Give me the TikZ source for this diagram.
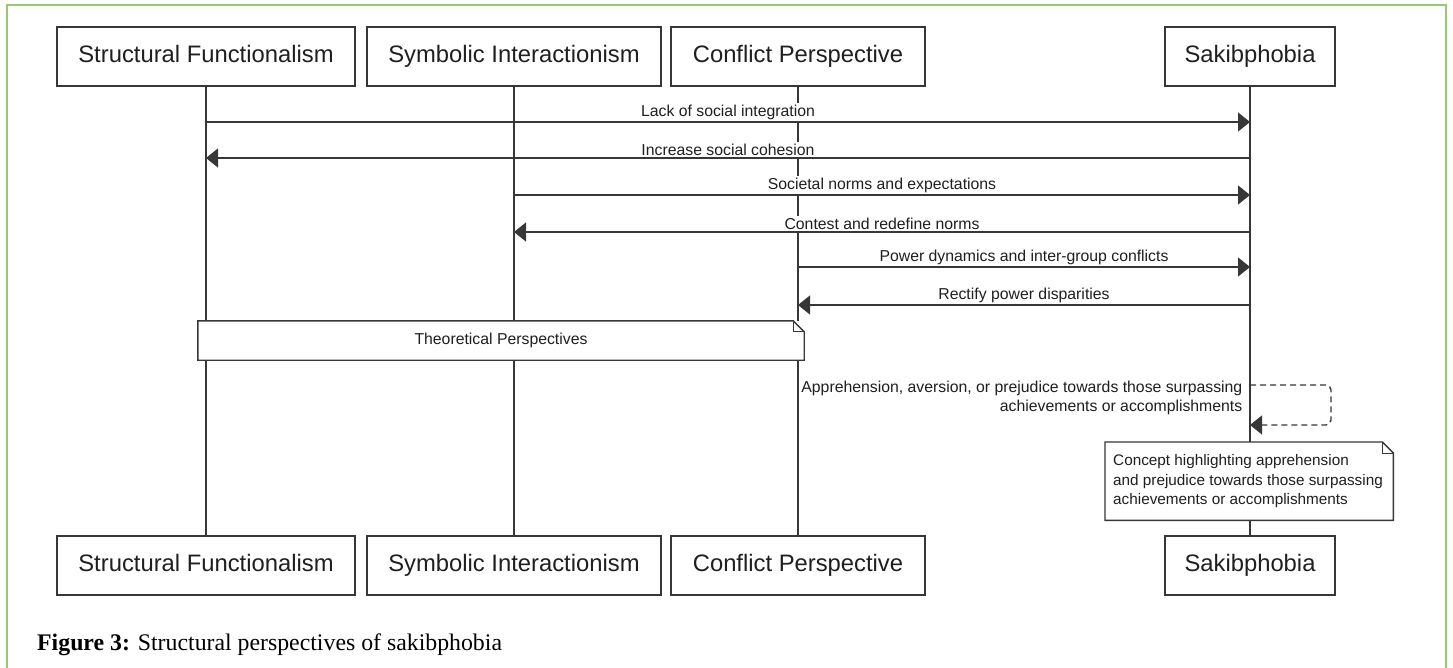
\documentclass[tikz,border=0pt]{standalone}
\usepackage{fontspec}
\setmainfont{Liberation Serif}
\newfontfamily\diafont{Liberation Sans}
\usetikzlibrary{arrows.meta}
\definecolor{rahmen}{RGB}{150,200,120}
\definecolor{linie}{RGB}{55,55,55}

\tikzset{
  kasten/.style={draw=linie, line width=1.4pt, minimum height=59pt, inner sep=0pt,
    text height=17pt, text depth=5pt, text=black!88, font=\diafont\fontsize{23.8}{28}\selectfont},
  lebenslinie/.style={draw=linie, line width=1.3pt},
  nachricht/.style={draw=linie, line width=1.4pt, -{Triangle[length=12pt,width=19pt]}},
  selbst/.style={nachricht, dash pattern=on 6pt off 4pt, rounded corners=5pt},
  beschriftung/.style={inner sep=1.5pt, text=black!88, font=\diafont\fontsize{15.8}{19.5}\selectfont},
  notiz/.style={beschriftung, fill=white, inner sep=0pt},
  notizrand/.style={draw=linie, line width=1.4pt},
}

\begin{document}
\begin{tikzpicture}[x=1pt, y=-1pt]
  \useasboundingbox (0,0) rectangle (1453,668);
  \fill[white] (0,0) rectangle (1453,668);

  % Rahmen
  \draw[rahmen, line width=2pt] (7,668) -- (7,5) -- (1446,5) -- (1446,668);

  % Kästen oben
  \node[kasten, minimum width=298pt] (sfTop) at (206,56.5) {Structural Functionalism};
  \node[kasten, minimum width=294pt] (siTop) at (514,56.5) {Symbolic Interactionism};
  \node[kasten, minimum width=254pt] (cpTop) at (798,56.5) {Conflict Perspective};
  \node[kasten, minimum width=170pt] (skTop) at (1250,56.5) {Sakibphobia};

  % Kästen unten
  \node[kasten, minimum width=298pt] (sfBot) at (206,565.5) {Structural Functionalism};
  \node[kasten, minimum width=294pt] (siBot) at (514,565.5) {Symbolic Interactionism};
  \node[kasten, minimum width=254pt] (cpBot) at (798,565.5) {Conflict Perspective};
  \node[kasten, minimum width=170pt] (skBot) at (1250,565.5) {Sakibphobia};

  % Lebenslinien
  \draw[lebenslinie] (sfTop) -- (sfBot);
  \draw[lebenslinie] (siTop) -- (siBot);
  \draw[lebenslinie] (cpTop) -- (cpBot);
  \draw[lebenslinie] (skTop) -- (skBot);

  % Nachrichten
  \draw[nachricht] (sfTop |- 0,122) -- (skTop |- 0,122)
    node[beschriftung, fill=white, midway, above=0.5pt] (m1) {Lack of social integration};
  \draw[nachricht] (skTop |- 0,158) -- (sfTop |- 0,158)
    node[beschriftung, fill=white, midway, above=0.5pt] (m2) {Increase social cohesion};
  \draw[nachricht] (siTop |- 0,195) -- (skTop |- 0,195)
    node[beschriftung, fill=white, midway, above=0.5pt] (m3) {Societal norms and expectations};
  \draw[nachricht] (skTop |- 0,232) -- (siTop |- 0,232)
    node[beschriftung, fill=white, midway, above=0.5pt] (m4) {Contest and redefine norms};
  \draw[nachricht] (cpTop |- 0,267) -- (skTop |- 0,267)
    node[beschriftung, fill=white, midway, above=0.5pt] (m5) {Power dynamics and inter-group conflicts};
  \draw[nachricht] (skTop |- 0,305) -- (cpTop |- 0,305)
    node[beschriftung, fill=white, midway, above=0.5pt] (m6) {Rectify power disparities};

  % Notiz Perspektiven
  \node[notiz, minimum width=606pt, minimum height=39pt] (tp) at (501,340.5) {Theoretical Perspectives};
  \draw[notizrand] (tp.north west) -- ([xshift=-11pt]tp.north east) -- ([yshift=-11pt]tp.north east)
    -- (tp.south east) -- (tp.south west) -- cycle;
  \draw[notizrand, line width=1pt] ([xshift=-11pt]tp.north east) |- ([yshift=-11pt]tp.north east);

  % Selbstnachricht
  \draw[selbst] (skTop |- 0,385) -- ++(81,0) -- ++(0,40) -- (skTop |- 0,425);
  \node[beschriftung, anchor=east, align=right] (sm) at (1244,398)
    {Apprehension, aversion, or prejudice towards those surpassing\\achievements or accomplishments};

  % Notiz Konzept
  \node[notiz, anchor=north west, minimum width=288pt, minimum height=78pt] (kn) at (1105,442) {};
  \node[beschriftung, anchor=west, align=left, inner sep=0pt, font=\diafont\fontsize{15.3}{19.5}\selectfont]
    (kt) at (1113,481.5)
    {Concept highlighting apprehension\\and prejudice towards those surpassing\\achievements or accomplishments};
  \draw[notizrand] (kn.north west) -- ([xshift=-11pt]kn.north east) -- ([yshift=-11pt]kn.north east)
    -- (kn.south east) -- (kn.south west) -- cycle;
  \draw[notizrand, line width=1pt] ([xshift=-11pt]kn.north east) |- ([yshift=-11pt]kn.north east);

  % Bildunterschrift
  \node[anchor=west, inner sep=0pt, font=\fontsize{23.8}{28}\selectfont] (cap) at (37,645)
    {\textbf{Figure 3:} Structural perspectives of sakibphobia};
\end{tikzpicture}
\end{document}
